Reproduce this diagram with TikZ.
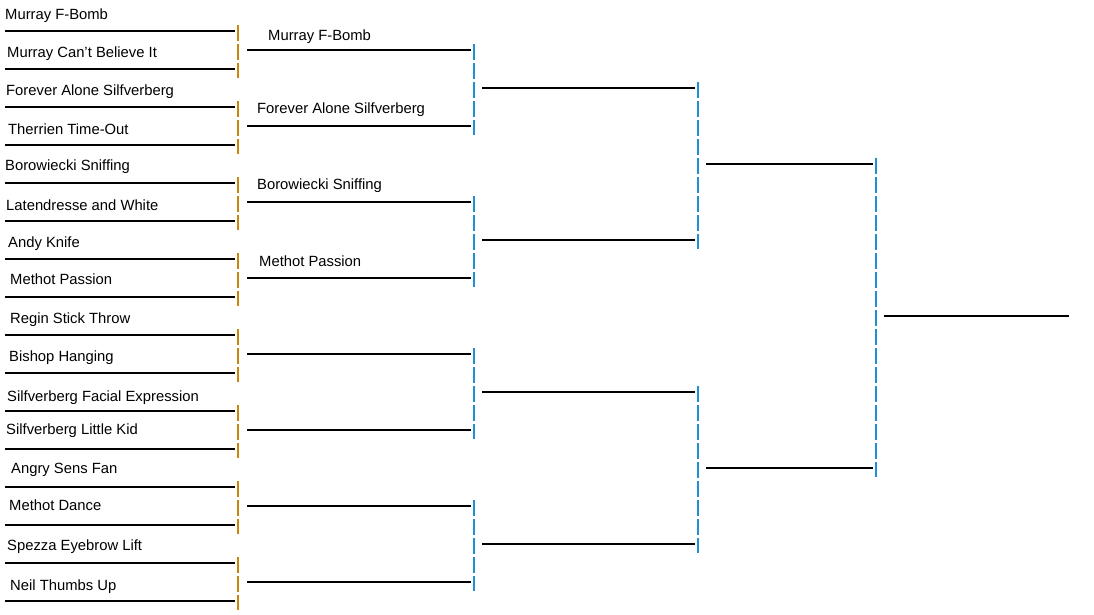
\documentclass[tikz,border=0pt]{standalone}
\usepackage{fontspec}
\setmainfont{Liberation Sans}
\definecolor{rone}{RGB}{200,134,10}
\definecolor{rtwo}{RGB}{30,144,210}
\tikzset{
  slot/.style={line width=2pt, black},
  rail/.style={line width=2pt, dash pattern=on 16pt off 3pt},
  railA/.style={rail, rone},
  railB/.style={rail, rtwo},
  lbl/.style={anchor=west, inner sep=0pt, yshift=-2pt, font=\fontsize{14.8}{16}\selectfont, text=black}
}
\begin{document}
\begin{tikzpicture}[x=1pt,y=-1pt]
\useasboundingbox (0,0) rectangle (1094,614);
% round 1 slots
\foreach \i in {0,...,15}{
  \coordinate (a\i s) at (5,{31+38*\i});
  \coordinate (a\i e) at (235,{31+38*\i});
  \draw[slot] (a\i s) -- (a\i e);
}
\foreach \k in {0,...,7}{
  \coordinate (va\k t) at (238,{31+76*\k-6});
  \coordinate (va\k b) at (238,{69+76*\k+9});
  \draw[railA] (va\k t) -- (va\k b);
  \coordinate (b\k s) at (247,{50+76*\k});
  \coordinate (b\k e) at (471,{50+76*\k});
  \draw[slot] (b\k s) -- (b\k e);
}
\foreach \m in {0,...,3}{
  \coordinate (vb\m t) at (474,{50+152*\m-6});
  \coordinate (vb\m b) at (474,{126+152*\m+9});
  \draw[railB] (vb\m t) -- (vb\m b);
  \coordinate (c\m s) at (482,{88+152*\m});
  \coordinate (c\m e) at (695,{88+152*\m});
  \draw[slot] (c\m s) -- (c\m e);
}
\foreach \n in {0,1}{
  \coordinate (vc\n t) at (698,{88+304*\n-6});
  \coordinate (vc\n b) at (698,{240+304*\n+9});
  \draw[railB] (vc\n t) -- (vc\n b);
  \coordinate (d\n s) at (706,{164+304*\n});
  \coordinate (d\n e) at (873,{164+304*\n});
  \draw[slot] (d\n s) -- (d\n e);
}
\coordinate (vdt) at (876,158);
\coordinate (vdb) at (876,477);
\draw[railB] (vdt) -- (vdb);
\coordinate (fs) at (884,316);
\coordinate (fe) at (1069,316);
\draw[slot] (fs) -- (fe);
% round 1 labels
\node[lbl] (t0) at (5,14) {Murray F-Bomb};
\node[lbl] (t1) at (7,52) {Murray Can't Believe It};
\node[lbl] (t2) at (6,90) {Forever Alone Silfverberg};
\node[lbl] (t3) at (8,127) {Therrien Time-Out};
\node[lbl] (t4) at (5,165) {Borowiecki Sniffing};
\node[lbl] (t5) at (6,203) {Latendresse and White};
\node[lbl] (t6) at (8,242) {Andy Knife};
\node[lbl] (t7) at (10,277) {Methot Passion};
\node[lbl] (t8) at (10,318) {Regin Stick Throw};
\node[lbl] (t9) at (9,356) {Bishop Hanging};
\node[lbl] (t10) at (7,396) {Silfverberg Facial Expression};
\node[lbl] (t11) at (6,429) {Silfverberg Little Kid};
\node[lbl] (t12) at (11,468) {Angry Sens Fan};
\node[lbl] (t13) at (9,503) {Methot Dance};
\node[lbl] (t14) at (7,545) {Spezza Eyebrow Lift};
\node[lbl] (t15) at (10,585) {Neil Thumbs Up};
% round 2 labels
\node[lbl] (u0) at (268,35) {Murray F-Bomb};
\node[lbl] (u1) at (257,108) {Forever Alone Silfverberg};
\node[lbl] (u2) at (257,184) {Borowiecki Sniffing};
\node[lbl] (u3) at (259,259) {Methot Passion};
\end{tikzpicture}
\end{document}
